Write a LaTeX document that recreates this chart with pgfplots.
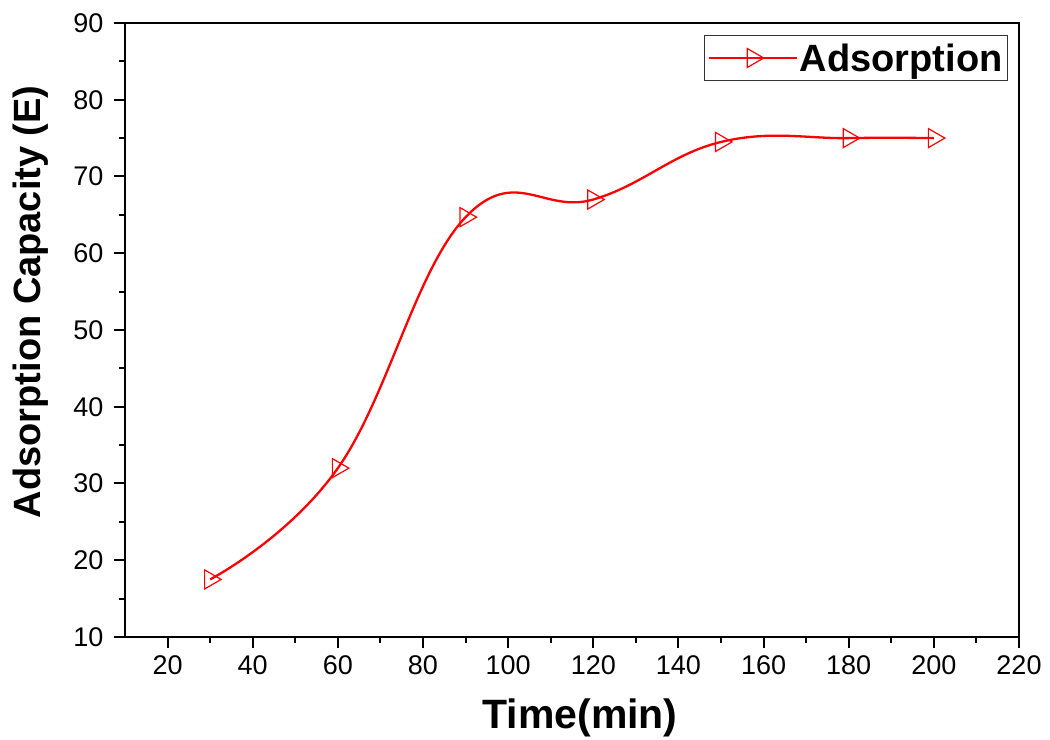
\documentclass[border=0pt]{standalone}
\usepackage{fontspec}
\setmainfont{Liberation Sans}
\usepackage{pgfplots}
\pgfplotsset{compat=1.18}
\begin{document}
\begin{tikzpicture}
\begin{axis}[
  scale only axis, width=894pt, height=614pt,
  xmin=10, xmax=220, ymin=10, ymax=90,
  xtick={20,40,...,220}, ytick={10,20,...,90},
  minor x tick num=1, minor y tick num=1,
  tick align=outside, xtick pos=left, ytick pos=left,
  major tick length=11pt, minor tick length=6pt,
  every tick/.style={black, line width=2pt},
  axis line style={line width=2.2pt},
  ticklabel style={font=\fontsize{27}{32}\selectfont},
  xticklabel style={yshift=-4pt},
  yticklabel style={xshift=-7pt},
  /pgf/number format/assume math mode=true,
  xlabel={Time(min)}, ylabel={Adsorption Capacity (E)},
  xlabel style={at={(axis description cs:0.509,-0.132)}, anchor=center, font=\fontsize{41}{46}\selectfont\bfseries},
  ylabel style={at={(axis description cs:-0.106,0.546)}, anchor=center, font=\fontsize{38}{44}\selectfont\bfseries},
  legend style={at={(1,1)}, anchor=north east, xshift=-11pt, yshift=-12pt,
    draw=black!80, line width=1pt, font=\fontsize{38}{42}\selectfont\bfseries,
    inner xsep=3pt, inner ysep=6pt},
  legend image code/.code={\draw[mark repeat=2,mark phase=2,#1] plot coordinates {(0pt,0pt) (44pt,0pt) (88pt,0pt)};},
]
\addplot[red, line width=2.3pt, smooth, tension=0.7, mark=triangle, mark size=11pt,
  mark options={rotate=-90, fill=white, draw=red, line width=1.2pt}]
  coordinates {(30,17.5) (60,32) (90,64.7) (120,67) (150,74.5) (180,75) (200,75)};
\addlegendentry{Adsorption}
\coordinate (bl) at (rel axis cs:0,0);
\coordinate (tr) at (rel axis cs:1,1);
\end{axis}
\pgfresetboundingbox
\path (bl) ++(-125pt,-103pt) coordinate (a);
\path (tr) ++(31pt,23pt) coordinate (b);
\useasboundingbox (a) rectangle (b);
\end{tikzpicture}
\end{document}
